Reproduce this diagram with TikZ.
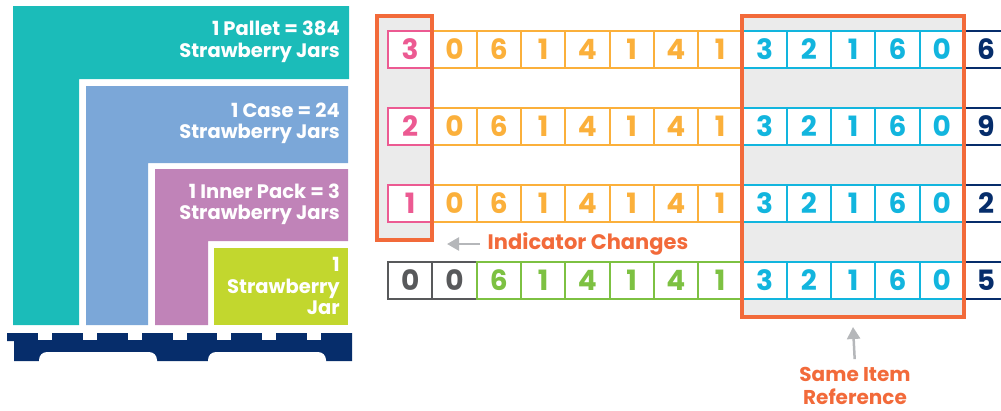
\documentclass[tikz,border=0pt]{standalone}
\usepackage{fontspec}
\setmainfont{Poppins}
\usetikzlibrary{arrows.meta}
\definecolor{tealT}{HTML}{1BBCB9}
\definecolor{blueT}{HTML}{7BA7D8}
\definecolor{purpleT}{HTML}{C083B8}
\definecolor{limeT}{HTML}{C2D72E}
\definecolor{navyD}{HTML}{062D6B}
\definecolor{pinkD}{HTML}{EC5A92}
\definecolor{orangeD}{HTML}{FBB03B}
\definecolor{cyanD}{HTML}{12B5DE}
\definecolor{greenD}{HTML}{7DC142}
\definecolor{grayD}{HTML}{58595B}
\definecolor{hiorange}{HTML}{F26A3A}
\definecolor{hifill}{HTML}{EBEBEB}
\definecolor{pointergray}{HTML}{B5B7BA}

\begin{document}
\begin{tikzpicture}[
  x=1pt, y=-1pt,
  cell/.style={draw, fill=white, line width=2pt, minimum width=44.3pt,
               minimum height=37pt, inner sep=0pt,
               font=\fontsize{28}{28}\selectfont\bfseries},
  tier/.style={text=white, align=right, anchor=east, inner sep=0pt,
               font=\fontsize{19.5}{21.5}\selectfont\bfseries},
  hilite/.style={draw=hiorange, line width=4pt},
  callout/.style={text=hiorange, align=center, inner sep=2pt,
                  font=\fontsize{21}{23}\selectfont\bfseries},
  pointer/.style={-{Triangle[length=12pt, width=13pt]}, draw=pointergray,
                  line width=2.5pt, shorten <=6pt}]
  \clip (0,0) rectangle (1001,410);

  % packaging levels
  \fill[tealT] (13,6) -- (349,6) -- (349,79) -- (79,79) -- (79,325) -- (13,325) -- cycle;
  \fill[blueT] (86,86) -- (348,86) -- (348,163) -- (148,163) -- (148,325) -- (86,325) -- cycle;
  \fill[purpleT] (155,169) -- (348,169) -- (348,241) -- (208,241) -- (208,325) -- (155,325) -- cycle;
  \fill[limeT] (214,248) rectangle (348,325);
  \node[tier] (pallet) at (340,42) {1 Pallet = 384\\Strawberry Jars};
  \node[tier] (case) at (340,123.5) {1 Case = 24\\Strawberry Jars};
  \node[tier] (inner) at (340,204.5) {1 Inner Pack = 3\\Strawberry Jars};
  \node[tier] (jar) at (340,286) {1\\Strawberry\\Jar};

  % pallet
  \fill[navyD] (7,333) -- (352,333) -- (352,361) -- (14,361) -- (14,341) -- (7,341) -- cycle;
  \foreach \a in {38,83,128,173,217,262,307}
    \fill[white] (\a,331) rectangle ++(14,9);
  \fill[white, rounded corners=8pt] (39,352) rectangle (157,372);
  \fill[white, rounded corners=8pt] (208,352) rectangle (326,372);

  % GTIN rows
  \fill[hifill] (377,16) rectangle (432,240);
  \fill[hifill] (742,16) rectangle (964,317);
  \foreach \r/\ds in {1/{3,0,6,1,4,1,4,1,3,2,1,6,0,6},
                      2/{2,0,6,1,4,1,4,1,3,2,1,6,0,9},
                      3/{1,0,6,1,4,1,4,1,3,2,1,6,0,2},
                      4/{0,0,6,1,4,1,4,1,3,2,1,6,0,5}} {
    \foreach \d [count=\c] in \ds {
      \def\cc{cyanD}
      \ifnum\c>13 \def\cc{navyD}\fi
      \ifnum\c<9 \ifnum\r=4 \def\cc{greenD}\else\def\cc{orangeD}\fi\fi
      \ifnum\c<3 \ifnum\r=4 \def\cc{grayD}\fi\fi
      \ifnum\c=1 \ifnum\r<4 \def\cc{pinkD}\fi\fi
      \node[cell, draw=\cc, text=\cc] (r\r c\c) at ({388+(\c-0.5)*44.3}, {49.5+(\r-1)*77}) {\d};
    }
  }
  \draw[hilite] (377,16) rectangle (432,240);
  \draw[hilite] (742,16) rectangle (964,317);

  % callouts
  \node[callout] (indicator) at (588,244) {Indicator Changes};
  \coordinate (indtip) at (447,244);
  \draw[pointer] (indicator.west) -- (indtip);
  \node[callout, font=\fontsize{20}{23}\selectfont\bfseries] (sameref) at (855,386) {Same Item\\Reference};
  \coordinate (sametip) at (853,327);
  \draw[pointer] (sameref.north) -- (sametip);
\end{tikzpicture}
\end{document}
